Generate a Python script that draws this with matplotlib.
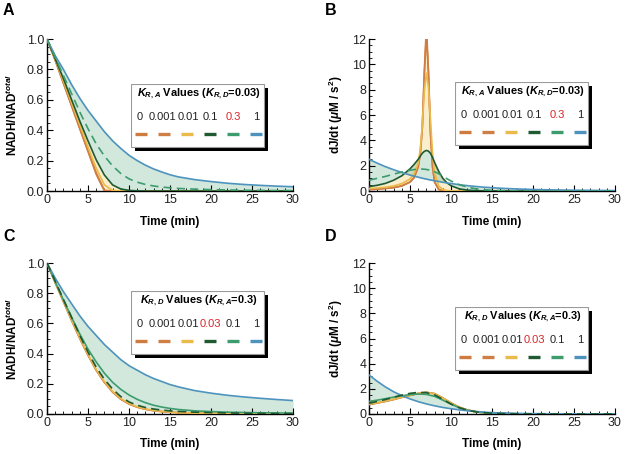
import matplotlib
matplotlib.use("Agg")
import matplotlib.pyplot as plt
from matplotlib.patches import Rectangle
from matplotlib.ticker import MultipleLocator, FormatStrFormatter

plt.rcParams['font.family'] = ['Liberation Sans', 'DejaVu Sans']
plt.rcParams['mathtext.fontset'] = 'custom'
plt.rcParams['mathtext.it'] = 'Liberation Sans:italic:bold'
plt.rcParams['mathtext.rm'] = 'Liberation Sans:bold'
plt.rcParams['mathtext.bf'] = 'Liberation Sans:bold'

# ---------------- data ----------------
t_ac = [0, 1, 2, 3, 4, 5, 6, 7, 8, 9, 10, 11, 12, 13, 14, 15, 16, 18, 20, 22, 24, 26, 28, 30]
t_b = [0, 1, 2, 3, 4, 5, 5.5, 6, 6.25, 6.5, 6.75, 7, 7.25, 7.5, 7.75, 8, 8.5, 9, 9.5, 10,
       11, 12, 13, 14, 15, 16, 18, 20, 22, 24, 26, 28, 30]

# Panel A: NADH/NAD_total, varying K_RA (K_RD = 0.03)
a_0 = [1.0, 0.86, 0.71, 0.56, 0.41, 0.26, 0.11, 0.0, 0, 0, 0, 0, 0, 0, 0, 0, 0, 0, 0, 0, 0, 0, 0, 0]
a_0001 = [1.0, 0.86, 0.71, 0.56, 0.41, 0.265, 0.12, 0.005, 0, 0, 0, 0, 0, 0, 0, 0, 0, 0, 0, 0, 0, 0, 0, 0]
a_001 = [1.0, 0.865, 0.725, 0.58, 0.435, 0.29, 0.15, 0.04, 0.004, 0, 0, 0, 0, 0, 0, 0, 0, 0, 0, 0, 0, 0, 0, 0]
a_01 = [1.0, 0.87, 0.74, 0.6, 0.46, 0.33, 0.205, 0.105, 0.04, 0.013, 0.004, 0.001, 0, 0, 0, 0, 0, 0, 0, 0, 0, 0, 0, 0]
a_03 = [1.0, 0.88, 0.76, 0.64, 0.52, 0.41, 0.31, 0.23, 0.165, 0.115, 0.08, 0.058, 0.043, 0.033, 0.026,
        0.021, 0.017, 0.012, 0.009, 0.007, 0.005, 0.004, 0.003, 0.003]
a_1 = [1.0, 0.89, 0.8, 0.7, 0.61, 0.53, 0.46, 0.39, 0.33, 0.28, 0.235, 0.2, 0.17, 0.145, 0.125, 0.107,
       0.093, 0.075, 0.062, 0.051, 0.043, 0.037, 0.032, 0.028]

# Panel B: dJ/dt, varying K_RA (K_RD = 0.03)
b_0 = [0.12, 0.15, 0.2, 0.27, 0.4, 0.7, 1.05, 1.9, 2.9, 5.0, 9.5, 13.0, 9.5, 4.5, 1.9, 0.7, 0.12,
       0.02, 0, 0, 0, 0, 0, 0, 0, 0, 0, 0, 0, 0, 0, 0, 0]
b_0001 = [0.12, 0.15, 0.2, 0.27, 0.4, 0.71, 1.07, 1.92, 2.95, 5.0, 9.2, 12.4, 9.3, 4.6, 1.95, 0.72, 0.13,
          0.02, 0, 0, 0, 0, 0, 0, 0, 0, 0, 0, 0, 0, 0, 0, 0]
b_001 = [0.2, 0.24, 0.3, 0.4, 0.58, 0.95, 1.35, 2.2, 3.3, 5.2, 7.9, 9.3, 8.2, 5.6, 3.0, 1.4, 0.4, 0.12,
         0.04, 0.01, 0, 0, 0, 0, 0, 0, 0, 0, 0, 0, 0, 0, 0]
b_01 = [0.35, 0.45, 0.6, 0.85, 1.2, 1.75, 2.1, 2.5, 2.75, 2.98, 3.13, 3.2, 3.15, 2.97, 2.65, 2.25, 1.55,
        1.0, 0.65, 0.42, 0.17, 0.07, 0.03, 0.012, 0.005, 0, 0, 0, 0, 0, 0, 0, 0]
b_03 = [0.85, 1.0, 1.15, 1.33, 1.5, 1.64, 1.69, 1.72, 1.73, 1.73, 1.72, 1.7, 1.67, 1.63, 1.58, 1.52, 1.36,
        1.17, 0.97, 0.79, 0.5, 0.3, 0.18, 0.1, 0.06, 0.035, 0.013, 0.005, 0.002, 0.001, 0, 0, 0]
b_1 = [2.5, 2.2, 1.92, 1.68, 1.46, 1.26, 1.17, 1.09, 1.05, 1.01, 0.97, 0.94, 0.9, 0.87, 0.84, 0.81, 0.75,
       0.69, 0.64, 0.59, 0.5, 0.42, 0.36, 0.3, 0.26, 0.22, 0.16, 0.12, 0.09, 0.07, 0.055, 0.045, 0.035]

# Panel C: NADH/NAD_total, varying K_RD (K_RA = 0.3)
c_0 = [1.0, 0.87, 0.745, 0.62, 0.5, 0.39, 0.29, 0.21, 0.145, 0.098, 0.066, 0.045, 0.031, 0.022, 0.016,
       0.012, 0.009, 0.005, 0.003, 0.002, 0.001, 0.001, 0.0, 0.0]
c_0001 = [1.0, 0.87, 0.745, 0.62, 0.5, 0.39, 0.29, 0.21, 0.146, 0.099, 0.067, 0.046, 0.032, 0.022, 0.016,
          0.012, 0.009, 0.005, 0.003, 0.002, 0.001, 0.001, 0.0, 0.0]
c_001 = [1.0, 0.872, 0.748, 0.625, 0.505, 0.395, 0.295, 0.215, 0.15, 0.103, 0.07, 0.048, 0.034, 0.024,
         0.017, 0.013, 0.01, 0.006, 0.004, 0.002, 0.001, 0.001, 0.001, 0.0]
c_003 = [1.0, 0.88, 0.76, 0.64, 0.52, 0.41, 0.31, 0.23, 0.165, 0.115, 0.08, 0.058, 0.043, 0.033, 0.026,
         0.021, 0.017, 0.012, 0.009, 0.007, 0.005, 0.004, 0.003, 0.003]
c_01 = [1.0, 0.875, 0.755, 0.64, 0.53, 0.43, 0.345, 0.27, 0.21, 0.163, 0.126, 0.097, 0.075, 0.058, 0.046,
        0.037, 0.03, 0.021, 0.016, 0.012, 0.01, 0.008, 0.007, 0.006]
c_1 = [1.0, 0.9, 0.81, 0.73, 0.65, 0.58, 0.52, 0.46, 0.41, 0.36, 0.32, 0.29, 0.26, 0.235, 0.215, 0.195,
       0.18, 0.155, 0.138, 0.124, 0.113, 0.104, 0.096, 0.089]

# Panel D: dJ/dt, varying K_RD (K_RA = 0.3)
d_0 = [0.75, 0.87, 1.0, 1.15, 1.32, 1.48, 1.63, 1.72, 1.62, 1.28, 0.88, 0.55, 0.32, 0.18, 0.1, 0.055,
       0.03, 0.01, 0.003, 0.001, 0, 0, 0, 0]
d_0001 = [0.76, 0.88, 1.01, 1.16, 1.33, 1.49, 1.63, 1.72, 1.61, 1.27, 0.87, 0.54, 0.32, 0.18, 0.1, 0.055,
          0.03, 0.01, 0.003, 0.001, 0, 0, 0, 0]
d_001 = [0.78, 0.9, 1.03, 1.18, 1.34, 1.5, 1.64, 1.72, 1.6, 1.26, 0.86, 0.54, 0.31, 0.17, 0.095, 0.052,
         0.028, 0.009, 0.003, 0.001, 0, 0, 0, 0]
d_003 = [0.85, 1.0, 1.15, 1.33, 1.5, 1.64, 1.72, 1.7, 1.52, 1.17, 0.79, 0.5, 0.3, 0.18, 0.1, 0.06,
         0.035, 0.013, 0.005, 0.002, 0.001, 0, 0, 0]
d_01 = [1.0, 1.1, 1.22, 1.34, 1.45, 1.54, 1.59, 1.56, 1.4, 1.1, 0.78, 0.5, 0.3, 0.18, 0.1, 0.06,
        0.035, 0.013, 0.005, 0.002, 0.001, 0, 0, 0]
d_1 = [3.1, 2.6, 2.15, 1.77, 1.46, 1.2, 0.98, 0.8, 0.65, 0.52, 0.42, 0.33, 0.26, 0.2, 0.15, 0.11,
       0.085, 0.05, 0.03, 0.018, 0.011, 0.007, 0.004, 0.003]

labels_A = ['0', '0.001', '0.01', '0.1', '0.3', '1']
labels_C = ['0', '0.001', '0.01', '0.03', '0.1', '1']

# ---------------- style ----------------
colors = ['#cf7a3e', '#cf7f45', '#eabb4b', '#1f5a31', '#3d9c6e', '#4d93bd']
FILL_G = '#3d9c6e'
FILL_Y = '#f3c34a'
RED = '#d8262b'

FW, FH = 625, 454
fig = plt.figure(figsize=(FW / 100, FH / 100), dpi=100)


def make_axes(left, top, right, bottom):
    return fig.add_axes([left / FW, (FH - bottom) / FH, (right - left) / FW, (bottom - top) / FH])


def style(ax, ymax, ymaj, ymin_, ylabel, yfmt):
    ax.set_xlim(0, 30)
    ax.set_ylim(0, ymax)
    ax.spines['top'].set_visible(False)
    ax.spines['right'].set_visible(False)
    for s in ('left', 'bottom'):
        ax.spines[s].set_linewidth(1.0)
    ax.xaxis.set_major_locator(MultipleLocator(5))
    ax.xaxis.set_minor_locator(MultipleLocator(1))
    ax.yaxis.set_major_locator(MultipleLocator(ymaj))
    ax.yaxis.set_minor_locator(MultipleLocator(ymin_))
    ax.tick_params(which='major', direction='in', length=4, width=0.8, labelsize=9, pad=2,
                   labelcolor='#222222')
    ax.tick_params(which='minor', direction='in', length=2, width=0.6)
    ax.yaxis.set_major_formatter(yfmt)
    ax.set_xlabel('Time (min)', fontsize=8.5, fontweight='bold', labelpad=7)
    ax.set_ylabel(ylabel, fontsize=8.5, fontweight='bold', labelpad=5)


def draw(ax, t, series, ref):
    ax.fill_between(t, series[0], series[3], color=FILL_Y, alpha=0.28, lw=0)
    ax.fill_between(t, series[3], series[5], color=FILL_G, alpha=0.23, lw=0)
    for i, (y, c) in enumerate(zip(series, colors)):
        if i == ref:
            ax.plot(t, y, color=c, lw=1.2, ls=(0, (5, 3)), zorder=4)
        else:
            ax.plot(t, y, color=c, lw=1.2, zorder=3)


def legend(left, top, title, labels, ref):
    W, H, sh = 133, 63, 3.5
    lax = fig.add_axes([left / FW, (FH - top - H - sh) / FH, (W + sh) / FW, (H + sh) / FH])
    lax.set_xlim(0, W + sh)
    lax.set_ylim(H + sh, 0)
    lax.axis('off')
    lax.add_patch(Rectangle((sh, sh), W, H, facecolor='black', edgecolor='none'))
    lax.add_patch(Rectangle((0, 0), W, H, facecolor='white', edgecolor='#9a9a9a', lw=0.8))
    lax.text(W / 2 + 1, 9.5, title, ha='center', va='center', fontsize=7.9, fontweight='bold')
    text_x = [9.0, 31.5, 57.5, 79.7, 102.3, 125.0]
    dash_x = [9.7, 33, 56, 79, 102, 125]
    for i, (tx, dx, lab) in enumerate(zip(text_x, dash_x, labels)):
        lax.text(tx, 33, lab, ha='center', va='center', fontsize=8,
                 color=RED if i == ref else '#222222')
        lax.plot([dx - 6, dx + 6], [50, 50], color=colors[i], lw=2.4, solid_capstyle='butt')


yfmt1 = FormatStrFormatter('%.1f')
yfmt0 = FormatStrFormatter('%d')
ylab1 = r'NADH/NAD$^{total}$'
ylab2 = r'dJ/dt ($\mu$M / s$^2$)'

axA = make_axes(47, 39, 293, 191)
draw(axA, t_ac, [a_0, a_0001, a_001, a_01, a_03, a_1], 4)
style(axA, 1.0, 0.2, 0.05, ylab1, yfmt1)

axB = make_axes(369, 39, 615, 191)
draw(axB, t_b, [b_0, b_0001, b_001, b_01, b_03, b_1], 4)
style(axB, 12, 2, 0.5, ylab2, yfmt0)

axC = make_axes(47, 263, 293, 414)
draw(axC, t_ac, [c_0, c_0001, c_001, c_003, c_01, c_1], 3)
style(axC, 1.0, 0.2, 0.05, ylab1, yfmt1)

axD = make_axes(369, 263, 615, 414)
draw(axD, t_ac, [d_0, d_0001, d_001, d_003, d_01, d_1], 3)
style(axD, 12, 2, 0.5, ylab2, yfmt0)

titleA = r'$K_{R,A}$ Values ($K_{R,D}$=0.03)'
titleC = r'$K_{R,D}$ Values ($K_{R,A}$=0.3)'
legend(131, 84, titleA, labels_A, 4)
legend(455, 82, titleA, labels_A, 4)
legend(131, 291, titleC, labels_C, 3)
legend(455, 307, titleC, labels_C, 3)

for lab, x, y in [('A', 3, 3), ('B', 325, 3), ('C', 3, 229), ('D', 325, 229)]:
    fig.text(x / FW, 1 - y / FH, lab, ha='left', va='top', fontsize=11.5, fontweight='bold')

fig.savefig('out.png', dpi=100)
